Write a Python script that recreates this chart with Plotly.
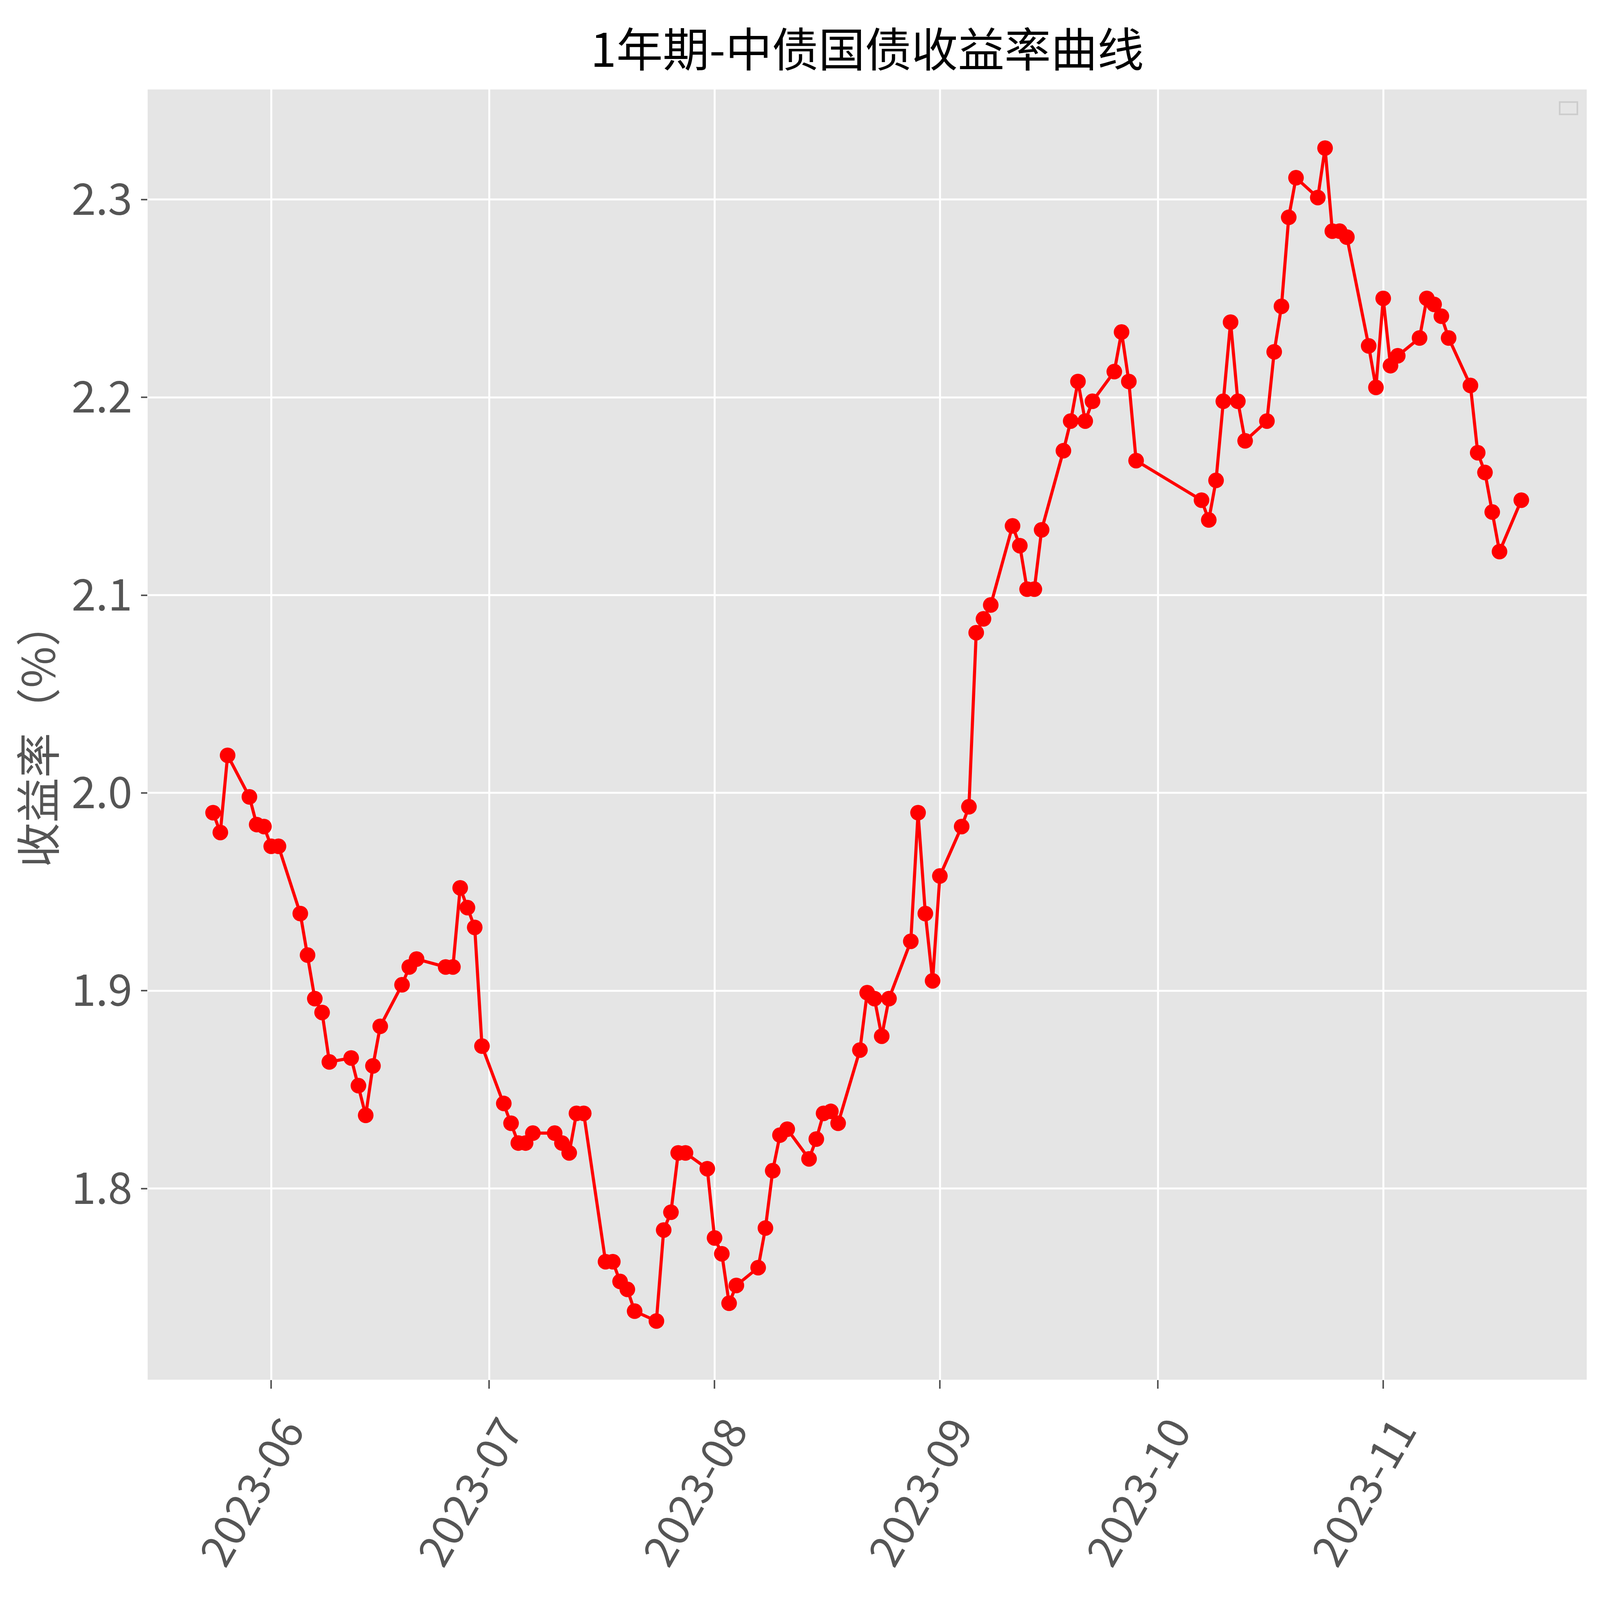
import plotly.graph_objects as go

# 1年期中债国债收益率, 2023-05-24 ~ 2023-11-20
dates = [
    "2023-05-24", "2023-05-25", "2023-05-26", "2023-05-29", "2023-05-30", "2023-05-31",
    "2023-06-01", "2023-06-02", "2023-06-05", "2023-06-06", "2023-06-07", "2023-06-08",
    "2023-06-09", "2023-06-12", "2023-06-13", "2023-06-14", "2023-06-15", "2023-06-16",
    "2023-06-19", "2023-06-20", "2023-06-21", "2023-06-25", "2023-06-26", "2023-06-27",
    "2023-06-28", "2023-06-29", "2023-06-30",
    "2023-07-03", "2023-07-04", "2023-07-05", "2023-07-06", "2023-07-07", "2023-07-10",
    "2023-07-11", "2023-07-12", "2023-07-13", "2023-07-14", "2023-07-17", "2023-07-18",
    "2023-07-19", "2023-07-20", "2023-07-21", "2023-07-24", "2023-07-25", "2023-07-26",
    "2023-07-27", "2023-07-28", "2023-07-31",
    "2023-08-01", "2023-08-02", "2023-08-03", "2023-08-04", "2023-08-07", "2023-08-08",
    "2023-08-09", "2023-08-10", "2023-08-11", "2023-08-14", "2023-08-15", "2023-08-16",
    "2023-08-17", "2023-08-18", "2023-08-21", "2023-08-22", "2023-08-23", "2023-08-24",
    "2023-08-25", "2023-08-28", "2023-08-29", "2023-08-30", "2023-08-31",
    "2023-09-01", "2023-09-04", "2023-09-05", "2023-09-06", "2023-09-07", "2023-09-08",
    "2023-09-11", "2023-09-12", "2023-09-13", "2023-09-14", "2023-09-15", "2023-09-18",
    "2023-09-19", "2023-09-20", "2023-09-21", "2023-09-22", "2023-09-25", "2023-09-26",
    "2023-09-27", "2023-09-28",
    "2023-10-07", "2023-10-08", "2023-10-09", "2023-10-10", "2023-10-11", "2023-10-12",
    "2023-10-13", "2023-10-16", "2023-10-17", "2023-10-18", "2023-10-19", "2023-10-20",
    "2023-10-23", "2023-10-24", "2023-10-25", "2023-10-26", "2023-10-27", "2023-10-30",
    "2023-10-31",
    "2023-11-01", "2023-11-02", "2023-11-03", "2023-11-06", "2023-11-07", "2023-11-08",
    "2023-11-09", "2023-11-10", "2023-11-13", "2023-11-14", "2023-11-15", "2023-11-16",
    "2023-11-17", "2023-11-20",
]

yields = [
    1.990, 1.980, 2.019, 1.998, 1.984, 1.983,
    1.973, 1.973, 1.939, 1.918, 1.896, 1.889,
    1.864, 1.866, 1.852, 1.837, 1.862, 1.882,
    1.903, 1.912, 1.916, 1.912, 1.912, 1.952,
    1.942, 1.932, 1.872,
    1.843, 1.833, 1.823, 1.823, 1.828, 1.828,
    1.823, 1.818, 1.838, 1.838, 1.763, 1.763,
    1.753, 1.749, 1.738, 1.733, 1.779, 1.788,
    1.818, 1.818, 1.810,
    1.775, 1.767, 1.742, 1.751, 1.760, 1.780,
    1.809, 1.827, 1.830, 1.815, 1.825, 1.838,
    1.839, 1.833, 1.870, 1.899, 1.896, 1.877,
    1.896, 1.925, 1.990, 1.939, 1.905,
    1.958, 1.983, 1.993, 2.081, 2.088, 2.095,
    2.135, 2.125, 2.103, 2.103, 2.133, 2.173,
    2.188, 2.208, 2.188, 2.198, 2.213, 2.233,
    2.208, 2.168,
    2.148, 2.138, 2.158, 2.198, 2.238, 2.198,
    2.178, 2.188, 2.223, 2.246, 2.291, 2.311,
    2.301, 2.326, 2.284, 2.284, 2.281, 2.226,
    2.205,
    2.250, 2.216, 2.221, 2.230, 2.250, 2.247,
    2.241, 2.230, 2.206, 2.172, 2.162, 2.142,
    2.122, 2.148,
]

x_ticks = ["2023-06-01", "2023-07-01", "2023-08-01", "2023-09-01", "2023-10-01", "2023-11-01"]
x_tick_text = ["2023-06", "2023-07", "2023-08", "2023-09", "2023-10", "2023-11"]
y_ticks = [1.8, 1.9, 2.0, 2.1, 2.2, 2.3]

FONT = "Noto Sans CJK SC"
GREY = "#555555"

# the browser window actually is 4096 x 4096, so scale the layout to it
W, H = 4096, 4096
sx, sy = W / 6194, H / 4573
fs = 0.72

# matplotlib style 5% margins
y_span = max(yields) - min(yields)
y_range = [min(yields) - 0.05 * y_span, max(yields) + 0.05 * y_span]
x_range = ["2023-05-15", "2023-11-29"]

fig = go.Figure()
fig.add_trace(go.Scatter(
    x=dates, y=yields, mode="lines+markers",
    line=dict(color="#ff0000", width=8),
    marker=dict(color="#ff0000", size=40),
    showlegend=False,
))

fig.update_layout(
    width=W, height=H,
    margin=dict(l=round(560 * sx), r=round(63 * sx), t=round(247 * sy), b=round(639 * sy)),
    paper_bgcolor="white",
    plot_bgcolor="#E5E5E5",
    font=dict(family=FONT, color=GREY),
    title=dict(
        text="1年期-中债国债收益率曲线",
        font=dict(family=FONT, size=round(165 * fs), color="black"),
        x=0.5, xref="paper", xanchor="center",
        y=1 - 135 / 4573, yref="container", yanchor="middle",
    ),
    showlegend=False,
)

fig.update_xaxes(
    range=x_range, tickvals=x_ticks, ticktext=x_tick_text,
    tickangle=-60, tickfont=dict(size=round(155 * fs), color=GREY),
    ticks="outside", ticklen=22, tickwidth=4, tickcolor=GREY,
    showgrid=True, gridcolor="white", gridwidth=5,
    zeroline=False, showline=False, ticklabelshift=40,
)
fig.update_yaxes(
    range=y_range, tickvals=y_ticks, ticktext=[f"{v:.1f}" for v in y_ticks],
    tickfont=dict(size=round(155 * fs), color=GREY),
    ticks="outside", ticklen=16, tickwidth=4, tickcolor=GREY,
    showgrid=True, gridcolor="white", gridwidth=5,
    zeroline=False, showline=False,
    title=dict(text="收益率（%）", font=dict(size=round(160 * fs), color=GREY), standoff=24),
)

# empty legend frame in the top-right corner
fig.add_shape(
    type="rect", xref="paper", yref="paper",
    x0=0.9812, x1=0.9935, y0=0.9807, y1=0.9902,
    line=dict(color="#cccccc", width=4), fillcolor="#E5E5E5",
)

fig.write_html("out.html")
